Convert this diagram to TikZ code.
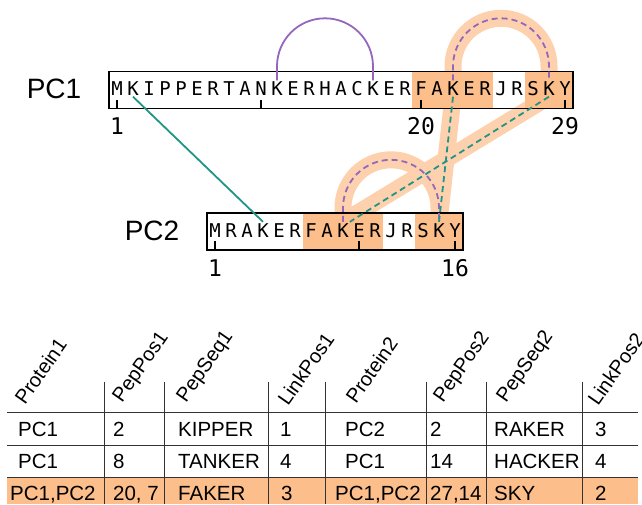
\documentclass[tikz,border=0pt]{standalone}
\usepackage{fontspec}
\setmainfont{Liberation Sans}
\newfontfamily\seqfont{DejaVu Sans Mono}
\usetikzlibrary{arrows.meta}

\definecolor{hlorange}{RGB}{252,190,138}
\definecolor{linkpurple}{RGB}{148,103,189}
\definecolor{linkteal}{RGB}{32,148,134}

\pgfdeclarelayer{background}
\pgfsetlayers{background,main}

\tikzset{
    res/.style={anchor=base, inner sep=1pt, text height=14pt, text depth=0pt,
        font=\seqfont\fontsize{19}{19}\selectfont},
    seqbox/.style={draw, line width=1.5pt, inner sep=0pt},
    tick/.style={line width=1.5pt},
    poslabel/.style={anchor=base, inner sep=0pt, font=\seqfont\fontsize{23}{23}\selectfont},
    protlabel/.style={inner sep=0pt, font=\fontsize{28}{28}\selectfont},
    band/.style={line width=17pt, hlorange, opacity=0.7, line join=round, line cap=round},
    linkp/.style={line width=1.8pt, linkpurple},
    linkt/.style={line width=1.8pt, linkteal},
    dashlink/.style={dash pattern=on 6pt off 4pt},
    grid/.style={line width=0.9pt, black!80},
    cell/.style={anchor=base west, inner sep=0pt, font=\fontsize{20.5}{20.5}\selectfont},
    head/.style={anchor=base west, inner sep=0pt, rotate=55, font=\fontsize{20}{20}\selectfont}
}

\begin{document}
\begin{tikzpicture}[x=1pt, y=-1pt]
    \useasboundingbox (0,0) rectangle (642,504);

    % sequences
    \node[protlabel] (pc1lab) at (54,89) {PC1};
    \node[protlabel] (pc2lab) at (152,231) {PC2};

    \fill[hlorange] (412,71.5) rectangle (493,108.5);
    \fill[hlorange] (525,71.5) rectangle (573,108.5);
    \fill[hlorange] (303,213) rectangle (383,250);
    \fill[hlorange] (415,213) rectangle (463,250);

    \node[seqbox, minimum width=464pt, minimum height=37pt] (pc1box) at (341,90) {};
    \node[seqbox, minimum width=256pt, minimum height=37pt] (pc2box) at (335,231.5) {};

    \foreach \ch [count=\i] in {M,K,I,P,P,E,R,T,A,N,K,E,R,H,A,C,K,E,R,F,A,K,E,R,J,R,S,K,Y}
        \node[res] (p1-\i) at ({117+16*(\i-1)},95.5) {\ch};
    \foreach \ch [count=\i] in {M,R,A,K,E,R,F,A,K,E,R,J,R,S,K,Y}
        \node[res] (p2-\i) at ({215+16*(\i-1)},237) {\ch};

    \foreach \i in {1,10,20,29}
        \draw[tick] ({117+16*(\i-1)},108.5) -- ++(0,-9);
    \foreach \i in {1,10,16}
        \draw[tick] ({215+16*(\i-1)},250) -- ++(0,-9);

    \foreach \i in {1,20,29}
        \node[poslabel] (n1-\i) at ({117+16*(\i-1)},134) {\i};
    \foreach \i in {1,16}
        \node[poslabel] (n2-\i) at ({215+16*(\i-1)},276) {\i};

    \begin{pgfonlayer}{background}
        \draw[band] (p1-22.north) -- ++(0,-14)
            arc[start angle=180, end angle=0, radius=48pt] -- (p1-28.south)
            -- (p2-9.north) -- ++(0,-14)
            arc[start angle=180, end angle=0, radius=48pt] -- (p2-15.north)
            -- (p1-22.south) -- cycle;
    \end{pgfonlayer}

    % links
    \draw[linkp] (p1-11.north) -- ++(0,-14)
        arc[start angle=180, end angle=0, radius=48pt] -- (p1-17.north);
    \draw[linkp, dashlink] (p1-22.north) -- ++(0,-14)
        arc[start angle=180, end angle=0, radius=48pt] -- (p1-28.north);
    \draw[linkp, dashlink] (p2-9.north) -- ++(0,-14)
        arc[start angle=180, end angle=0, radius=48pt] -- (p2-15.north);
    \draw[linkt] (p1-2.south) -- (p2-4.north);
    \draw[linkt, dashlink] (p1-22.south) -- (p2-15.north);
    \draw[linkt, dashlink] (p1-28.south) -- (p2-9.north east);

    % table
    \fill[hlorange] (7,477) rectangle (638,504);
    \foreach \y in {412.7,445,477}
        \draw[grid] (7,\y) -- (638,\y);
    \foreach \x in {104.3,164.3,268.3,325,426,486.7,582.7}
        \draw[grid] (\x,381.7) -- (\x,504);

    \foreach \txt/\x/\y [count=\i] in {Protein1/25/406, PepPos1/122/404,
            PepSeq1/186/404, LinkPos1/288/407, Protein2/356/405,
            PepPos2/443/404, PepSeq2/506/404, LinkPos2/598/407}
        \node[head] (h\i) at (\x,\y) {\txt};

    \foreach \a/\b/\c/\d/\e/\f/\g/\h/\y [count=\r] in {
            PC1/2/KIPPER/1/PC2/2/RAKER/3/436,
            PC1/8/TANKER/4/PC1/14/HACKER/4/468.3} {
        \node[cell] (r\r c1) at (18,\y) {\a};
        \node[cell] (r\r c2) at (113,\y) {\b};
        \node[cell] (r\r c3) at (178,\y) {\c};
        \node[cell] (r\r c4) at (280,\y) {\d};
        \node[cell] (r\r c5) at (345,\y) {\e};
        \node[cell] (r\r c6) at (430,\y) {\f};
        \node[cell] (r\r c7) at (494,\y) {\g};
        \node[cell] (r\r c8) at (595,\y) {\h};
    }
    \node[cell] (r3c1) at (10,500) {PC1,PC2};
    \node[cell] (r3c2) at (113,500) {20, 7};
    \node[cell] (r3c3) at (178,500) {FAKER};
    \node[cell] (r3c4) at (281,500) {3};
    \node[cell] (r3c5) at (335,500) {PC1,PC2};
    \node[cell] (r3c6) at (430,500) {27,14};
    \node[cell] (r3c7) at (494,500) {SKY};
    \node[cell] (r3c8) at (595,500) {2};
\end{tikzpicture}
\end{document}
